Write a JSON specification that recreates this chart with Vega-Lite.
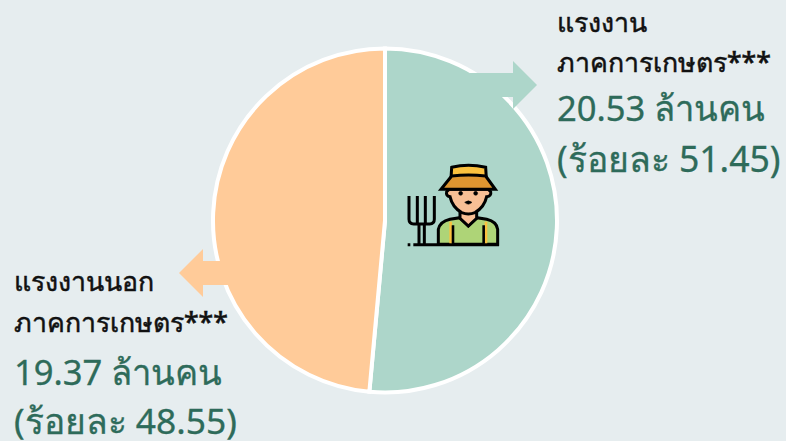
{
"$schema":"https://vega.github.io/schema/vega-lite/v6.json",
"width":770,"height":441,"padding":{"left":0,"right":16,"top":0,"bottom":0},"autosize":"none","background":"#E6EDEF",
"view":{"stroke":null},
"datasets":{
"shares":[{"sector":"แรงงานภาคการเกษตร","percent":51.45,"million":20.53},{"sector":"แรงงานนอกภาคการเกษตร","percent":48.55,"million":19.37}],
"labels":[
{"id":"a1","label":"แรงงาน"},{"id":"a2","label":"ภาคการเกษตร***"},{"id":"a3","label":"20.53 ล้านคน"},{"id":"a4","label":"(ร้อยละ 51.45)"},
{"id":"b1","label":"แรงงานนอก"},{"id":"b2","label":"ภาคการเกษตร***"},{"id":"b3","label":"19.37 ล้านคน"},{"id":"b4","label":"(ร้อยละ 48.55)"}],
"one":[{"part":"decoration"}]
},
"layer":[
{"data":{"name":"shares"},"mark":{"type":"arc","outerRadius":172,"stroke":"#FFFFFF","strokeWidth":4},
 "encoding":{"theta":{"field":"percent","type":"quantitative","stack":true},"order":{"field":"percent","sort":"descending"},
 "color":{"field":"sector","type":"nominal","legend":null,"scale":{"domain":["แรงงานภาคการเกษตร","แรงงานนอกภาคการเกษตร"],"range":["#ADD6CA","#FFCB99"]}}}},
{"data":{"name":"one"},"mark":{"type":"point","filled":true,"opacity":1,"size":4,"fill":"#ADD6CA","stroke":null,"shape":"M0 0 L-24 -24 L-24 -12 L-67 -12 L-67 12 L-24 12 L-24 24 Z"},
 "encoding":{"x":{"datum":537,"type":"quantitative","scale":{"domain":[0,770],"range":[0,770],"nice":false},"axis":null},"y":{"datum":85,"type":"quantitative","scale":{"domain":[0,441],"range":[0,441],"nice":false},"axis":null}}},
{"data":{"name":"one"},"mark":{"type":"point","filled":true,"opacity":1,"size":4,"fill":"#FFCB99","stroke":null,"shape":"M0 0 L24 -24 L24 -12 L50 -12 L50 12 L24 12 L24 24 Z"},
 "encoding":{"x":{"datum":179,"type":"quantitative","scale":{"domain":[0,770],"range":[0,770],"nice":false},"axis":null},"y":{"datum":273,"type":"quantitative","scale":{"domain":[0,441],"range":[0,441],"nice":false},"axis":null}}},
{"data":{"name":"one"},"encoding":{"x":{"datum":395,"type":"quantitative","scale":{"domain":[0,770],"range":[0,770],"nice":false},"axis":null},"y":{"datum":150,"type":"quantitative","scale":{"domain":[0,441],"range":[0,441],"nice":false},"axis":null}},
 "layer":[
 {"mark":{"type":"point","filled":false,"opacity":1,"size":0.4444,"stroke":"#000000","strokeWidth":3,"shape":"M42 138 L42 208 Q42 222 56 222 L104 222 Q118 222 118 208 L118 138 M67 138 L67 222 M91 138 L91 222 M72 222 L72 283 M88 222 L88 283 M55 284 L312 284 M38 284 L46 284"}},
 {"mark":{"type":"point","filled":true,"opacity":1,"size":0.4444,"fill":"#AED477","stroke":"#000000","strokeWidth":3,"shape":"M130 283 L130 238 Q135 215 165 208 L195 203 L220 228 L245 203 L275 208 Q305 215 308 238 L308 283 Z"}},
 {"mark":{"type":"point","filled":true,"opacity":1,"size":0.4444,"fill":"#F8BF95","stroke":"#000000","strokeWidth":3,"shape":"M195 180 L195 205 L220 228 L245 205 L245 180 Z"}},
 {"mark":{"type":"point","filled":true,"opacity":1,"size":0.4444,"fill":"#F8BF95","stroke":"#000000","strokeWidth":3,"shape":"M162 118 L155 125 Q152 138 165 140 Q172 172 200 188 Q220 196 240 188 Q268 172 275 140 Q290 138 287 125 L280 118 Z"}},
 {"mark":{"type":"point","filled":true,"opacity":1,"size":0.4444,"fill":"#FBC13E","stroke":"#000000","strokeWidth":3,"shape":"M170 52 Q220 40 272 52 L274 85 L168 85 Z"}},
 {"mark":{"type":"point","filled":true,"opacity":1,"size":0.4444,"fill":"#DE9530","stroke":"#000000","strokeWidth":3,"shape":"M170 78 Q220 72 272 78 L301 118 L138 118 Z"}},
 {"mark":{"type":"point","filled":true,"opacity":1,"size":0.4444,"fill":"#000000","stroke":"#000000","strokeWidth":0.5,"shape":"M191 130 a6 6 0 1 0 12 0 a6 6 0 1 0 -12 0 Z M236 130 a6 6 0 1 0 12 0 a6 6 0 1 0 -12 0 Z M209 157 Q220 148 231 157 Q220 168 209 157 Z"}},
 {"mark":{"type":"point","filled":false,"opacity":1,"size":0.4444,"stroke":"#FBC13E","strokeWidth":2.6,"shape":"M167 215 L167 280 M273 215 L273 280"}},
 {"mark":{"type":"point","filled":false,"opacity":1,"size":0.4444,"stroke":"#000000","strokeWidth":2.6,"shape":"M174 226 L174 280 M266 226 L266 280"}}
 ]},
{"data":{"name":"labels"},"transform":[{"filter":{"field":"id","equal":"a1"}}],"mark":{"type":"text","align":"left","baseline":"alphabetic","font":"Noto Sans","fontSize":26.7,"fontWeight":500,"color":"#111111","stroke":"#111111","strokeWidth":0.5},"encoding":{"text":{"field":"label"},"x":{"datum":557,"type":"quantitative","scale":{"domain":[0,770],"range":[0,770],"nice":false},"axis":null},"y":{"datum":32,"type":"quantitative","scale":{"domain":[0,441],"range":[0,441],"nice":false},"axis":null}}},
{"data":{"name":"labels"},"transform":[{"filter":{"field":"id","equal":"a2"}}],"mark":{"type":"text","align":"left","baseline":"alphabetic","font":"Noto Sans","fontSize":26.7,"fontWeight":500,"color":"#111111","stroke":"#111111","strokeWidth":0.5},"encoding":{"text":{"field":"label"},"x":{"datum":557,"type":"quantitative","scale":{"domain":[0,770],"range":[0,770],"nice":false},"axis":null},"y":{"datum":72,"type":"quantitative","scale":{"domain":[0,441],"range":[0,441],"nice":false},"axis":null}}},
{"data":{"name":"labels"},"transform":[{"filter":{"field":"id","equal":"a3"}}],"mark":{"type":"text","align":"left","baseline":"alphabetic","font":"Noto Sans","fontSize":34.6,"color":"#2E6B5A","stroke":"#2E6B5A","strokeWidth":0.3},"encoding":{"text":{"field":"label"},"x":{"datum":557,"type":"quantitative","scale":{"domain":[0,770],"range":[0,770],"nice":false},"axis":null},"y":{"datum":121,"type":"quantitative","scale":{"domain":[0,441],"range":[0,441],"nice":false},"axis":null}}},
{"data":{"name":"labels"},"transform":[{"filter":{"field":"id","equal":"a4"}}],"mark":{"type":"text","align":"left","baseline":"alphabetic","font":"Noto Sans","fontSize":35.6,"color":"#2E6B5A","stroke":"#2E6B5A","strokeWidth":0.3},"encoding":{"text":{"field":"label"},"x":{"datum":557,"type":"quantitative","scale":{"domain":[0,770],"range":[0,770],"nice":false},"axis":null},"y":{"datum":172,"type":"quantitative","scale":{"domain":[0,441],"range":[0,441],"nice":false},"axis":null}}},
{"data":{"name":"labels"},"transform":[{"filter":{"field":"id","equal":"b1"}}],"mark":{"type":"text","align":"left","baseline":"alphabetic","font":"Noto Sans","fontSize":26.7,"fontWeight":500,"color":"#111111","stroke":"#111111","strokeWidth":0.5},"encoding":{"text":{"field":"label"},"x":{"datum":14,"type":"quantitative","scale":{"domain":[0,770],"range":[0,770],"nice":false},"axis":null},"y":{"datum":291,"type":"quantitative","scale":{"domain":[0,441],"range":[0,441],"nice":false},"axis":null}}},
{"data":{"name":"labels"},"transform":[{"filter":{"field":"id","equal":"b2"}}],"mark":{"type":"text","align":"left","baseline":"alphabetic","font":"Noto Sans","fontSize":26.7,"fontWeight":500,"color":"#111111","stroke":"#111111","strokeWidth":0.5},"encoding":{"text":{"field":"label"},"x":{"datum":14,"type":"quantitative","scale":{"domain":[0,770],"range":[0,770],"nice":false},"axis":null},"y":{"datum":332,"type":"quantitative","scale":{"domain":[0,441],"range":[0,441],"nice":false},"axis":null}}},
{"data":{"name":"labels"},"transform":[{"filter":{"field":"id","equal":"b3"}}],"mark":{"type":"text","align":"left","baseline":"alphabetic","font":"Noto Sans","fontSize":34.6,"color":"#2E6B5A","stroke":"#2E6B5A","strokeWidth":0.3},"encoding":{"text":{"field":"label"},"x":{"datum":14,"type":"quantitative","scale":{"domain":[0,770],"range":[0,770],"nice":false},"axis":null},"y":{"datum":385,"type":"quantitative","scale":{"domain":[0,441],"range":[0,441],"nice":false},"axis":null}}},
{"data":{"name":"labels"},"transform":[{"filter":{"field":"id","equal":"b4"}}],"mark":{"type":"text","align":"left","baseline":"alphabetic","font":"Noto Sans","fontSize":35.4,"color":"#2E6B5A","stroke":"#2E6B5A","strokeWidth":0.3},"encoding":{"text":{"field":"label"},"x":{"datum":14,"type":"quantitative","scale":{"domain":[0,770],"range":[0,770],"nice":false},"axis":null},"y":{"datum":434,"type":"quantitative","scale":{"domain":[0,441],"range":[0,441],"nice":false},"axis":null}}}
]
}
